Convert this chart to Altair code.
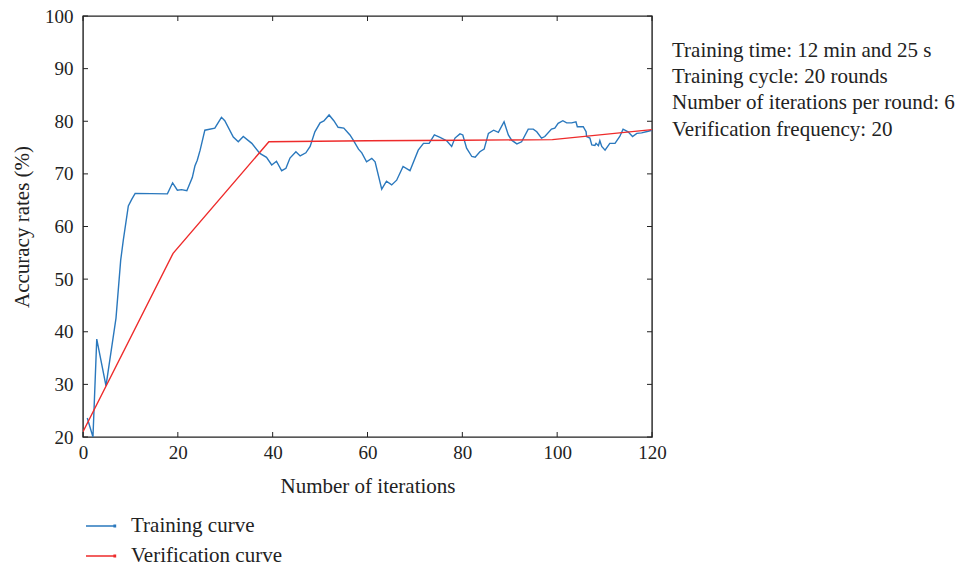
import altair as alt
import pandas as pd

# ---------------- data ----------------
train_x = [0.9, 2.1, 2.9, 4.85, 6.96, 7.95, 8.5, 9.56, 10.3, 11.0, 17.8, 18.9, 19.9, 20.8, 21.9,
           23.05, 23.6, 24.1, 24.7, 25.7, 27.8, 29.2, 29.9, 31.7, 32.75, 33.8, 35.6, 37.3, 38.7,
           39.8, 40.8, 41.9, 42.8, 43.65, 44.9, 45.8, 47.0, 47.9, 48.9, 50.0, 50.8, 51.9, 52.9,
           53.8, 55.0, 56.3, 57.0, 58.1, 58.8, 59.8, 60.9, 61.6, 63.0, 64.0, 65.1, 66.15, 67.5,
           68.96, 70.7, 71.8, 73.0, 74.1, 75.3, 76.7, 77.75, 78.45, 79.5, 80.1, 80.9, 82.0, 82.7,
           83.7, 84.6, 85.5, 86.6, 87.6, 88.8, 89.7, 90.4, 91.5, 92.5, 93.9, 94.96, 95.7, 96.7,
           97.4, 98.8, 99.5, 100.2, 101.2, 102.0, 103.06, 103.96, 104.25, 105.5, 106.1, 106.2,
           106.9, 107.3, 107.96, 108.2, 108.7, 109.0, 109.4, 110.1, 111.1, 112.2, 113.2, 113.9,
           114.96, 115.9, 116.8, 117.8, 119.2, 120.0]
train_y = [23.6, 20.0, 38.6, 29.7, 42.6, 53.6, 57.4, 63.9, 65.2, 66.3, 66.2, 68.3, 66.9, 67.0, 66.8,
           69.3, 71.5, 72.6, 74.5, 78.3, 78.7, 80.75, 80.1, 77.0, 76.1, 77.1, 75.8, 73.9, 73.15,
           71.7, 72.4, 70.6, 71.05, 73.0, 74.2, 73.4, 74.0, 75.2, 78.0, 79.7, 80.05, 81.2, 80.1,
           78.85, 78.7, 77.4, 76.4, 74.7, 74.0, 72.3, 72.96, 72.3, 67.1, 68.6, 67.9, 68.8, 71.4,
           70.6, 74.5, 75.8, 75.8, 77.4, 76.95, 76.3, 75.2, 76.8, 77.6, 77.4, 74.9, 73.3, 73.15,
           74.2, 74.7, 77.7, 78.3, 77.9, 79.9, 77.4, 76.4, 75.7, 76.1, 78.5, 78.5, 78.0, 76.8,
           77.1, 78.5, 78.7, 79.6, 80.1, 79.7, 79.7, 79.9, 78.96, 78.96, 78.0, 77.1,
           76.8, 75.5, 75.4, 75.8, 75.35, 76.3, 75.2, 74.5, 75.8, 75.8, 77.1, 78.5,
           78.0, 77.1, 77.7, 77.8, 78.1, 78.3]

verif_x = [0, 19, 39.2, 60, 80, 99, 120]
verif_y = [21.0, 54.9, 76.1, 76.3, 76.4, 76.5, 78.4]

series_names = ["Training curve", "Verification curve"]
series_colors = ["#2a78bd", "#ee2b2b"]

x_ticks = [0, 20, 40, 60, 80, 100, 120]
y_ticks = [20, 30, 40, 50, 60, 70, 80, 90, 100]

info_lines = [
    "Training time: 12 min and 25 s",
    "Training cycle: 20 rounds",
    "Number of iterations per round: 6",
    "Verification frequency: 20",
]

x_title = "Number of iterations"
y_title = "Accuracy rates (%)"

# ---------------- layout ----------------
W, H = 569, 421
FONT = "Liberation Serif"
FS_TICK = 19
FS_TEXT = 21
INK = "#222222"
TICK = 5

df = pd.concat([
    pd.DataFrame({"x": train_x, "y": train_y, "series": series_names[0]}),
    pd.DataFrame({"x": verif_x, "y": verif_y, "series": series_names[1]}),
], ignore_index=True)

x_scale = alt.Scale(domain=[0, 120], nice=False, zero=False)
y_scale = alt.Scale(domain=[20, 100], nice=False, zero=False)

x_axis = alt.Axis(values=x_ticks, title=x_title, labelPadding=6, titlePadding=13, labelFlush=False)
y_axis = alt.Axis(values=y_ticks, title=y_title, labelPadding=10, titlePadding=12, labelFlush=False)

legend_symbol = "M-1,0H0.86M0.87,-0.05H0.97V0.05H0.87Z"

lines = alt.Chart(df).mark_line(strokeWidth=1.4, clip=True).encode(
    x=alt.X("x:Q", scale=x_scale, axis=x_axis, title=x_title),
    y=alt.Y("y:Q", scale=y_scale, axis=y_axis, title=y_title),
    color=alt.Color("series:N",
                    scale=alt.Scale(domain=series_names, range=series_colors),
                    legend=alt.Legend(title=None, orient="none", legendX=2, legendY=494,
                                      symbolType=legend_symbol, symbolSize=900,
                                      symbolStrokeWidth=1.3, labelOffset=14,
                                      labelFont=FONT, labelFontSize=FS_TEXT, labelColor=INK,
                                      rowPadding=4, padding=0)),
    detail="series:N",
)

xt = pd.DataFrame({"x": x_ticks})
yt = pd.DataFrame({"y": y_ticks})

tick_bottom = alt.Chart(xt).mark_rule(color=INK, strokeWidth=1).encode(
    x=alt.X("x:Q", scale=x_scale, axis=x_axis, title=x_title), y=alt.value(H), y2=alt.value(H - TICK))
tick_top = alt.Chart(xt).mark_rule(color=INK, strokeWidth=1).encode(
    x=alt.X("x:Q", scale=x_scale, axis=x_axis, title=x_title), y=alt.value(0), y2=alt.value(TICK))
tick_left = alt.Chart(yt).mark_rule(color=INK, strokeWidth=1).encode(
    y=alt.Y("y:Q", scale=y_scale, axis=y_axis, title=y_title), x=alt.value(0), x2=alt.value(TICK))
tick_right = alt.Chart(yt).mark_rule(color=INK, strokeWidth=1).encode(
    y=alt.Y("y:Q", scale=y_scale, axis=y_axis, title=y_title), x=alt.value(W), x2=alt.value(W - TICK))

info = alt.Chart(pd.DataFrame({"t": ["\n".join(info_lines)]})).mark_text(
    align="left", baseline="alphabetic", font=FONT, fontSize=FS_TEXT, color=INK,
    lineBreak="\n", lineHeight=26.3,
).encode(text="t:N", x=alt.value(589), y=alt.value(40.7))

chart = alt.layer(lines, tick_bottom, tick_top, tick_left, tick_right, info).properties(
    width=W, height=H,
    autosize=alt.AutoSizeParams(type="none"),
    padding={"left": 83, "top": 16, "right": 316, "bottom": 132},
    background="white",
).configure_view(
    stroke=INK, strokeWidth=1.4,
).configure_axis(
    domain=False, ticks=False, grid=False,
    labelFont=FONT, labelFontSize=FS_TICK, labelColor=INK,
    titleFont=FONT, titleFontSize=FS_TEXT, titleColor=INK, titleFontWeight="normal",
)

chart.save("out.html", embed_options={"renderer": "svg", "actions": False})
